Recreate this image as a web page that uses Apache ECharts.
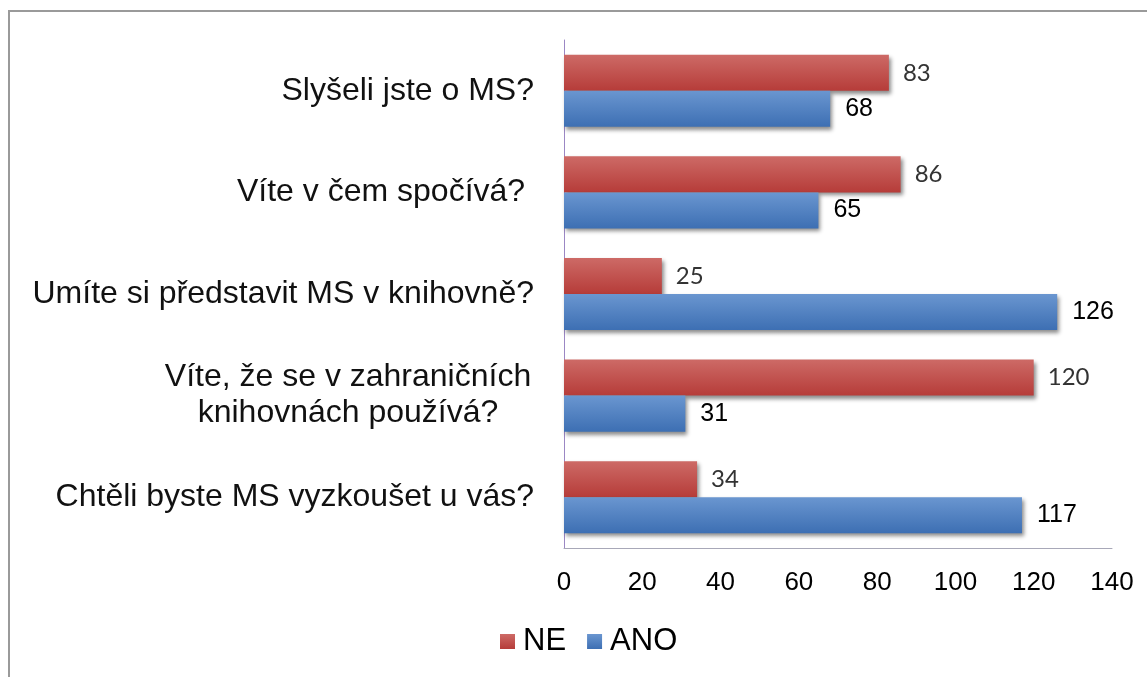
<!DOCTYPE html>
<html>
<head>
<meta charset="utf-8">
<script src="https://cdn.jsdelivr.net/npm/echarts@6/dist/echarts.min.js"></script>
<style>
html,body{margin:0;padding:0;background:#fff;}
#chart{width:1147px;height:677px;}
</style>
</head>
<body>
<div id="chart"></div>
<script>
var otazky = ['Slyšeli jste o MS?', 'Víte v čem spočívá? ', 'Umíte si představit MS v knihovně?',
    'Víte, že se v zahraničních\nknihovnách používá?', 'Chtěli byste MS vyzkoušet u vás?'];
var hodnotyNE = [83, 86, 25, 120, 34];
var hodnotyANO = [68, 65, 126, 31, 117];

var myChart = echarts.init(document.getElementById('chart'));

function gradient(top, bottom) {
    return new echarts.graphic.LinearGradient(0, 0, 0, 1, [
        {offset: 0, color: top}, {offset: 1, color: bottom}
    ]);
}

var option = {
    backgroundColor: '#fff',
    animation: false,
    grid: {left: 564, right: 35, top: 40, bottom: 129},
    legend: {
        bottom: 15,
        left: 495,
        itemWidth: 15,
        itemHeight: 15,
        itemGap: 21,
        icon: 'rect',
        textStyle: {fontFamily: 'Arial, Liberation Sans', fontSize: 31, color: '#000', padding: [0, 0, 0, 3]},
        data: ['NE', 'ANO']
    },
    graphic: [{
        type: 'polyline',
        shape: {points: [[9, 677], [9, 11], [1147, 11]]},
        style: {stroke: '#9a9a9a', lineWidth: 2, fill: null}
    }],
    xAxis: {
        type: 'value',
        min: 0, max: 140, interval: 20,
        splitLine: {show: false},
        axisLine: {show: true, lineStyle: {color: '#a8a8b8', width: 1}},
        axisTick: {show: false},
        axisLabel: {margin: 22, fontFamily: 'Arial, Liberation Sans', fontSize: 26, color: '#000'}
    },
    yAxis: {
        type: 'category',
        inverse: true,
        data: otazky,
        axisLine: {show: true, lineStyle: {color: '#9b87c4', width: 1}},
        axisTick: {show: false},
        axisLabel: {
            margin: 30,
            fontFamily: 'Arial, Liberation Sans',
            fontSize: 32,
            color: '#111',
            lineHeight: 36,
            formatter: function (v) {
                if (v.indexOf('\n') >= 0) {
                    var parts = v.split('\n');
                    return '{c|' + parts[0] + '}\n{c|' + parts[1] + '}';
                }
                return v;
            },
            rich: {
                c: {width: 372, align: 'center', fontFamily: 'Arial, Liberation Sans', fontSize: 32, color: '#111', lineHeight: 36}
            }
        }
    },
    series: [{
        name: 'NE',
        type: 'bar',
        data: hodnotyNE,
        barGap: '0%',
        barCategoryGap: '29%',
        itemStyle: {
            color: gradient('#cd6a66', '#b63c39'),
            shadowColor: 'rgba(0,0,0,0.45)', shadowBlur: 4, shadowOffsetX: 2, shadowOffsetY: 3
        },
        label: {
            show: true, position: 'right', distance: 14,
            fontFamily: 'Lato, Open Sans', fontSize: 24, color: '#333'
        }
    }, {
        name: 'ANO',
        type: 'bar',
        data: hodnotyANO,
        itemStyle: {
            color: gradient('#6a96d0', '#3d6fb3'),
            shadowColor: 'rgba(0,0,0,0.45)', shadowBlur: 4, shadowOffsetX: 2, shadowOffsetY: 3
        },
        label: {
            show: true, position: 'right', distance: 15,
            fontFamily: 'Arial, Liberation Sans', fontSize: 25, color: '#000'
        }
    }]
};
myChart.setOption(option);
</script>
</body>
</html>
